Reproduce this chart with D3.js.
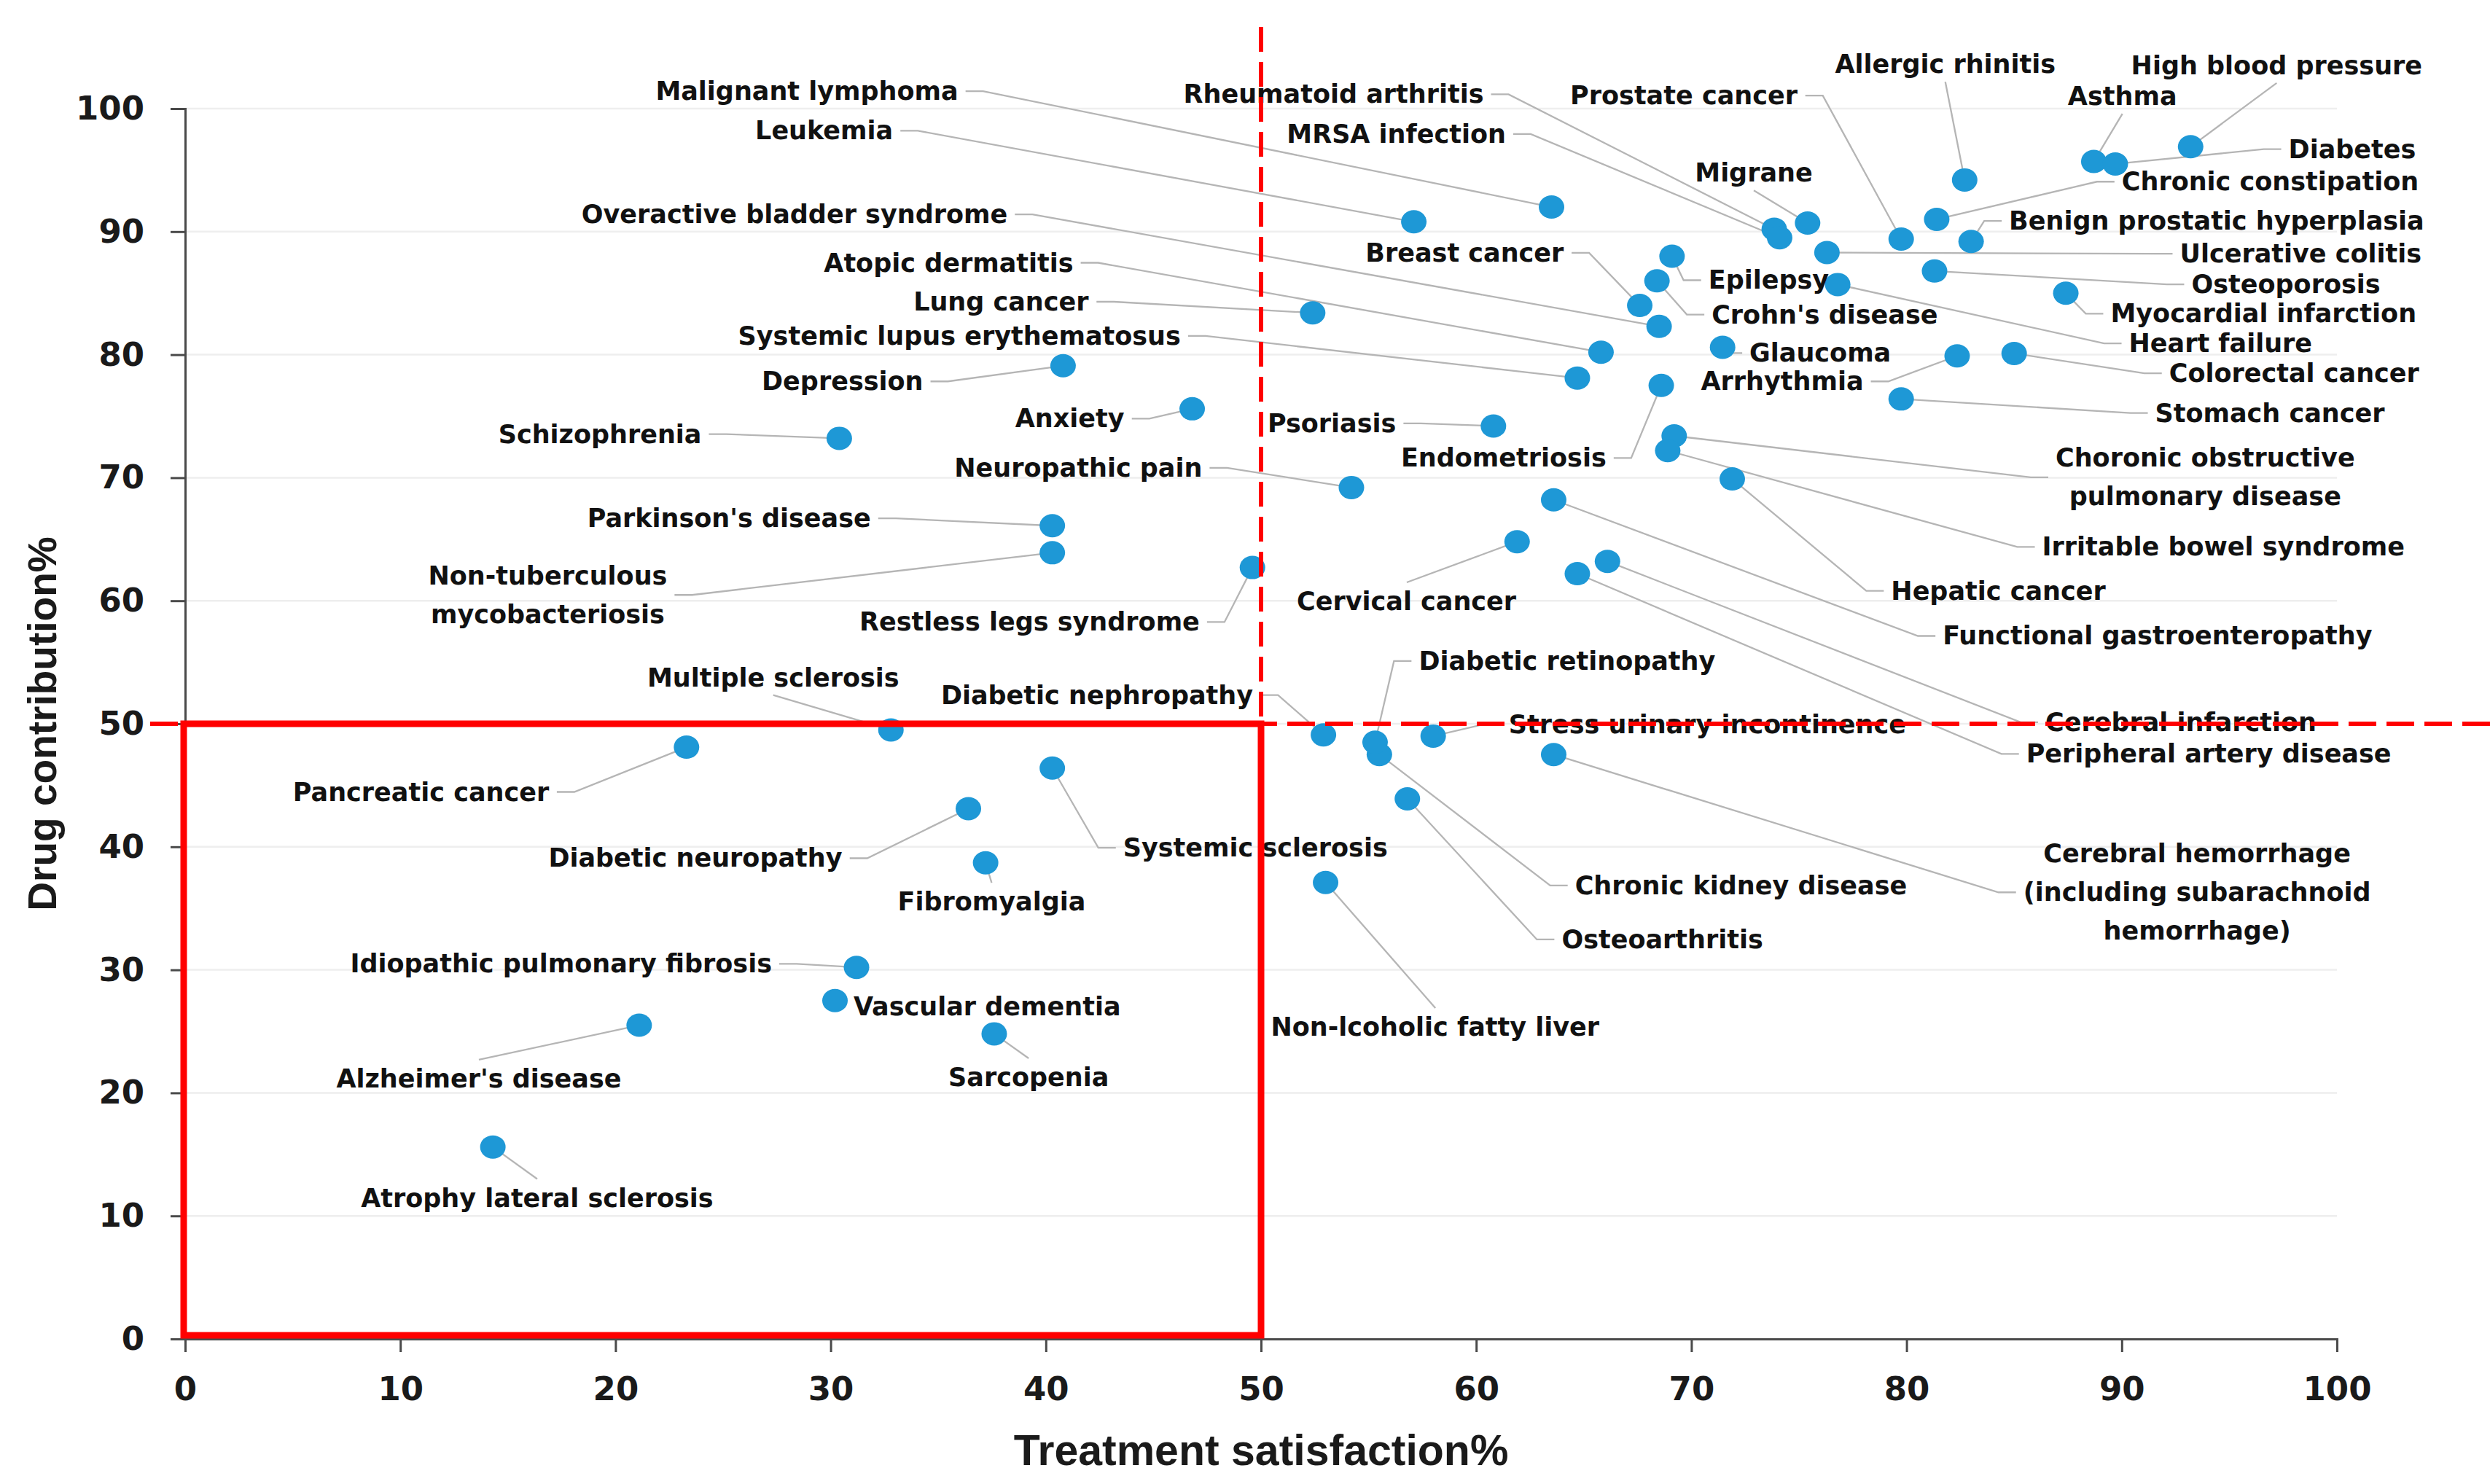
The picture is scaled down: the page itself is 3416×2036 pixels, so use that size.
<!DOCTYPE html>
<html>
<head>
<meta charset="utf-8">
<script src="https://cdn.jsdelivr.net/npm/d3@7"></script>
<style>
  body { margin: 0; background: #fff; }
</style>
</head>
<body>
<svg id="chart"></svg>
<script>
// values
const diseases = [
  "Malignant lymphoma", "Leukemia", "Overactive bladder syndrome", "Atopic dermatitis", "Lung cancer",
  "Systemic lupus erythematosus", "Depression", "Anxiety", "Schizophrenia", "Psoriasis",
  "Neuropathic pain", "Endometriosis", "Breast cancer", "Rheumatoid arthritis", "MRSA infection",
  "Prostate cancer", "Allergic rhinitis", "Asthma", "High blood pressure", "Diabetes",
  "Chronic constipation", "Benign prostatic  hyperplasia", "Ulcerative colitis", "Osteoporosis", "Myocardial infarction",
  "Heart failure", "Colorectal cancer", "Stomach cancer", "Epilepsy", "Crohn's disease",
  "Glaucoma", "Arrhythmia", "Migrane", "Choronic obstructive\npulmonary disease", "Irritable bowel syndrome",
  "Hepatic cancer", "Functional gastroenteropathy", "Cerebral infarction", "Peripheral artery disease",
  "Cerebral hemorrhage\n(including subarachnoid\nhemorrhage)",
  "Chronic kidney disease", "Osteoarthritis", "Stress urinary incontinence", "Diabetic retinopathy", "Diabetic nephropathy",
  "Restless legs syndrome", "Cervical cancer", "Systemic sclerosis", "Fibromyalgia", "Sarcopenia",
  "Non-lcoholic fatty liver", "Vascular dementia", "Diabetic neuropathy", "Pancreatic cancer", "Multiple sclerosis",
  "Idiopathic pulmonary fibrosis", "Alzheimer's disease", "Atrophy lateral sclerosis", "Parkinson's disease",
  "Non-tuberculous\nmycobacteriosis"
];
const satisfaction = [
  63.5, 57.1, 68.5, 65.8, 52.4, 64.7, 40.8, 46.8, 30.4, 60.8,
  54.2, 68.6, 67.6, 73.85, 74.1, 79.75, 82.7, 88.7, 93.2, 89.7,
  81.4, 83.0, 76.3, 81.3, 87.4, 76.8, 85.0, 79.75, 69.1, 68.4,
  71.45, 82.35, 75.4, 69.2, 68.9, 71.9, 63.6, 66.1, 64.7, 63.6,
  55.5, 56.8, 58.0, 55.3, 52.9, 49.6, 61.9, 40.3, 37.2, 37.6,
  53.0, 30.2, 36.4, 23.3, 32.8, 31.2, 21.1, 14.3, 40.3, 40.3
];
const contribution = [
  92.0, 90.8, 82.3, 80.2, 83.4, 78.1, 79.1, 75.6, 73.2, 74.2,
  69.2, 77.5, 84.0, 90.2, 89.5, 89.4, 94.2, 95.7, 96.9, 95.5,
  91.0, 89.2, 88.3, 86.8, 85.0, 85.7, 80.1, 76.4, 88.0, 86.0,
  80.6, 79.9, 90.7, 73.4, 72.2, 69.9, 68.2, 63.2, 62.2, 47.5,
  47.5, 43.9, 49.0, 48.5, 49.1, 62.7, 64.8, 46.4, 38.7, 24.8,
  37.1, 27.5, 43.1, 48.1, 49.5, 30.2, 25.5, 15.6, 66.1, 63.9
];

// where each callout sits, in chart units
const labelX = [
  35.93, 32.9, 38.22, 41.28, 41.99, 46.27, 34.3, 43.65, 24.0, 56.28,
  47.27, 66.05, 64.07, 60.35, 61.38, 74.93, 81.8, 90.03, 97.2, 97.75,
  90.0, 84.76, 92.7, 93.24, 89.48, 90.33, 92.2, 91.55, 70.79, 70.94,
  72.7, 78.0, 72.9, 93.88, 86.3, 79.28, 81.68, 86.45, 85.56, 93.5,
  64.59, 63.97, 61.51, 57.33, 49.63, 47.15, 56.76, 43.59, 37.48, 39.2,
  58.09, 31.06, 30.54, 16.91, 27.33, 27.27, 13.65, 16.36, 31.87, 16.85
];
const labelY = [
  101.42, 98.2, 91.4, 87.47, 84.3, 81.52, 77.83, 74.8, 73.54, 74.42,
  70.8, 71.6, 88.28, 101.16, 97.93, 101.06, 103.6, 101.0, 103.5, 96.7,
  94.06, 90.87, 88.2, 85.72, 83.33, 80.92, 78.49, 75.26, 86.05, 83.26,
  80.13, 77.83, 94.77, 70.03, 64.37, 60.8, 57.14, 50.13, 47.55, 36.3,
  36.86, 32.47, 49.96, 55.1, 52.33, 58.27, 59.95, 39.92, 35.54, 21.27,
  25.35, 27.0, 39.07, 44.46, 53.75, 30.49, 21.15, 11.46, 66.7, 60.47
];
// e = end, s = start, m = middle
const labelAnchor = [
  "e","e","e","e","e","e","e","e","e","e",
  "e","e","e","e","e","e","m","m","m","s",
  "s","s","s","s","s","s","s","s","s","s",
  "s","e","m","m","s","s","s","s","s","m",
  "s","s","s","s","e","e","m","s","m","m",
  "m","s","e","e","m","e","m","m","e","m"
];
// side of the label the leader line leaves from: r l t b, n = no line
const labelAttach = [
  "r","r","r","r","r","r","r","r","r","r",
  "r","r","r","r","r","r","b","b","b","l",
  "l","l","l","l","l","l","l","l","l","l",
  "l","r","b","l","l","l","l","l","l","l",
  "l","l","l","l","r","r","t","l","t","t",
  "t","n","r","r","b","r","t","t","r","r"
];

const xTicks = [0, 10, 20, 30, 40, 50, 60, 70, 80, 90, 100];
const yTicks = [0, 10, 20, 30, 40, 50, 60, 70, 80, 90, 100];
const threshold = 50;

const width = 3416, height = 2036;
const margin = { l: 254, r: 210, t: 149, b: 199 };

const svg = d3.select('#chart').attr('width', width).attr('height', height);
svg.append('rect').attr('width', width).attr('height', height).attr('fill', '#fff');

const x = d3.scaleLinear().domain([0, 100]).range([margin.l, width - margin.r]);
const y = d3.scaleLinear().domain([0, 100]).range([height - margin.b, margin.t]);

const labelFont = "'DejaVu Sans', Verdana, sans-serif";
const titleFont = "'Liberation Sans', Arial, sans-serif";

// gridlines
svg.append('g').selectAll('line')
  .data(yTicks.filter(d => d > 0))
  .join('line')
  .attr('x1', x(0)).attr('x2', x(100))
  .attr('y1', d => y(d)).attr('y2', d => y(d))
  .attr('stroke', '#eeeeee').attr('stroke-width', 2.5);

// axes
const xAxis = svg.append('g')
  .attr('transform', `translate(0,${y(0)})`)
  .call(d3.axisBottom(x).tickValues(xTicks).tickSize(18).tickPadding(34));
const yAxis = svg.append('g')
  .attr('transform', `translate(${x(0)},0)`)
  .call(d3.axisLeft(y).tickValues(yTicks).tickSize(20).tickPadding(36));
[xAxis, yAxis].forEach(g => {
  g.select('.domain').attr('stroke', '#4a4a4a').attr('stroke-width', 3);
  g.selectAll('.tick line').attr('stroke', '#4a4a4a').attr('stroke-width', 3);
  g.selectAll('.tick text')
    .attr('font-family', labelFont).attr('font-weight', 'bold')
    .attr('font-size', 45).attr('fill', '#1a1a1a');
});

svg.append('text')
  .attr('x', x(50)).attr('y', y(0) + 173)
  .attr('text-anchor', 'middle')
  .attr('font-family', titleFont).attr('font-weight', 'bold')
  .attr('font-size', 59).attr('fill', '#1a1a1a')
  .text('Treatment satisfaction%');
svg.append('text')
  .attr('transform', `translate(77,${y(50)}) rotate(-90)`)
  .attr('text-anchor', 'middle')
  .attr('font-family', titleFont).attr('font-weight', 'bold')
  .attr('font-size', 55).attr('fill', '#1a1a1a')
  .text('Drug contribution%');

const rows = diseases.map((name, i) => ({
  name, sx: satisfaction[i], cy: contribution[i],
  lx: labelX[i], ly: labelY[i], anchor: labelAnchor[i], attach: labelAttach[i]
}));

// labels first so their boxes can be measured
const anchorMap = { e: 'end', s: 'start', m: 'middle' };
const lineH = 53;
const leaderG = svg.append('g');
const pointG = svg.append('g');
const labelG = svg.append('g');

const labels = labelG.selectAll('text')
  .data(rows)
  .join('text')
  .attr('x', d => x(d.lx))
  .attr('y', d => y(d.ly))
  .attr('text-anchor', d => anchorMap[d.anchor])
  .attr('font-family', labelFont)
  .attr('font-weight', 'bold')
  .attr('font-size', 35)
  .attr('fill', '#111');

labels.each(function(d) {
  const lines = d.name.split('\n');
  const t = d3.select(this);
  lines.forEach((ln, k) => {
    t.append('tspan')
      .attr('x', x(d.lx))
      .attr('y', y(d.ly) + (k - (lines.length - 1) / 2) * lineH + 12)
      .text(ln);
  });
});

function leaderPath(d, box) {
  const px = x(d.sx), py = y(d.cy);
  const cyb = box.y + box.height / 2, cxb = box.x + box.width / 2;
  if (d.attach === 'r') {
    const a = box.x + box.width + 10;
    return `M${px},${py}L${a + 24},${cyb}L${a},${cyb}`;
  }
  if (d.attach === 'l') {
    const a = box.x - 10;
    return `M${px},${py}L${a - 24},${cyb}L${a},${cyb}`;
  }
  if (d.attach === 't') return `M${px},${py}L${cxb},${box.y - 6}`;
  if (d.attach === 'b') return `M${px},${py}L${cxb},${box.y + box.height + 4}`;
  return null;
}

labels.each(function(d) {
  const box = this.getBBox();
  const p = leaderPath(d, box);
  if (p) {
    leaderG.append('path')
      .attr('d', p)
      .attr('fill', 'none')
      .attr('stroke', '#b5b5b5')
      .attr('stroke-width', 2.3);
  }
});

pointG.selectAll('ellipse')
  .data(rows)
  .join('ellipse')
  .attr('cx', d => x(d.sx))
  .attr('cy', d => y(d.cy))
  .attr('rx', 17.5).attr('ry', 16)
  .attr('fill', '#1e98d6');

// red guides on top
const red = '#ff0000';
svg.append('line')
  .attr('x1', x(threshold)).attr('x2', x(threshold))
  .attr('y1', 37).attr('y2', y(threshold))
  .attr('stroke', red).attr('stroke-width', 6)
  .attr('stroke-dasharray', '34 14');
svg.append('line')
  .attr('x1', x(0) - 48).attr('x2', width)
  .attr('y1', y(threshold)).attr('y2', y(threshold))
  .attr('stroke', red).attr('stroke-width', 6)
  .attr('stroke-dasharray', '38 14');
svg.append('rect')
  .attr('x', x(0) - 2).attr('y', y(threshold))
  .attr('width', x(threshold) - x(0) + 2)
  .attr('height', y(0) - y(threshold) - 5)
  .attr('fill', 'none')
  .attr('stroke', red).attr('stroke-width', 9);
</script>
</body>
</html>
